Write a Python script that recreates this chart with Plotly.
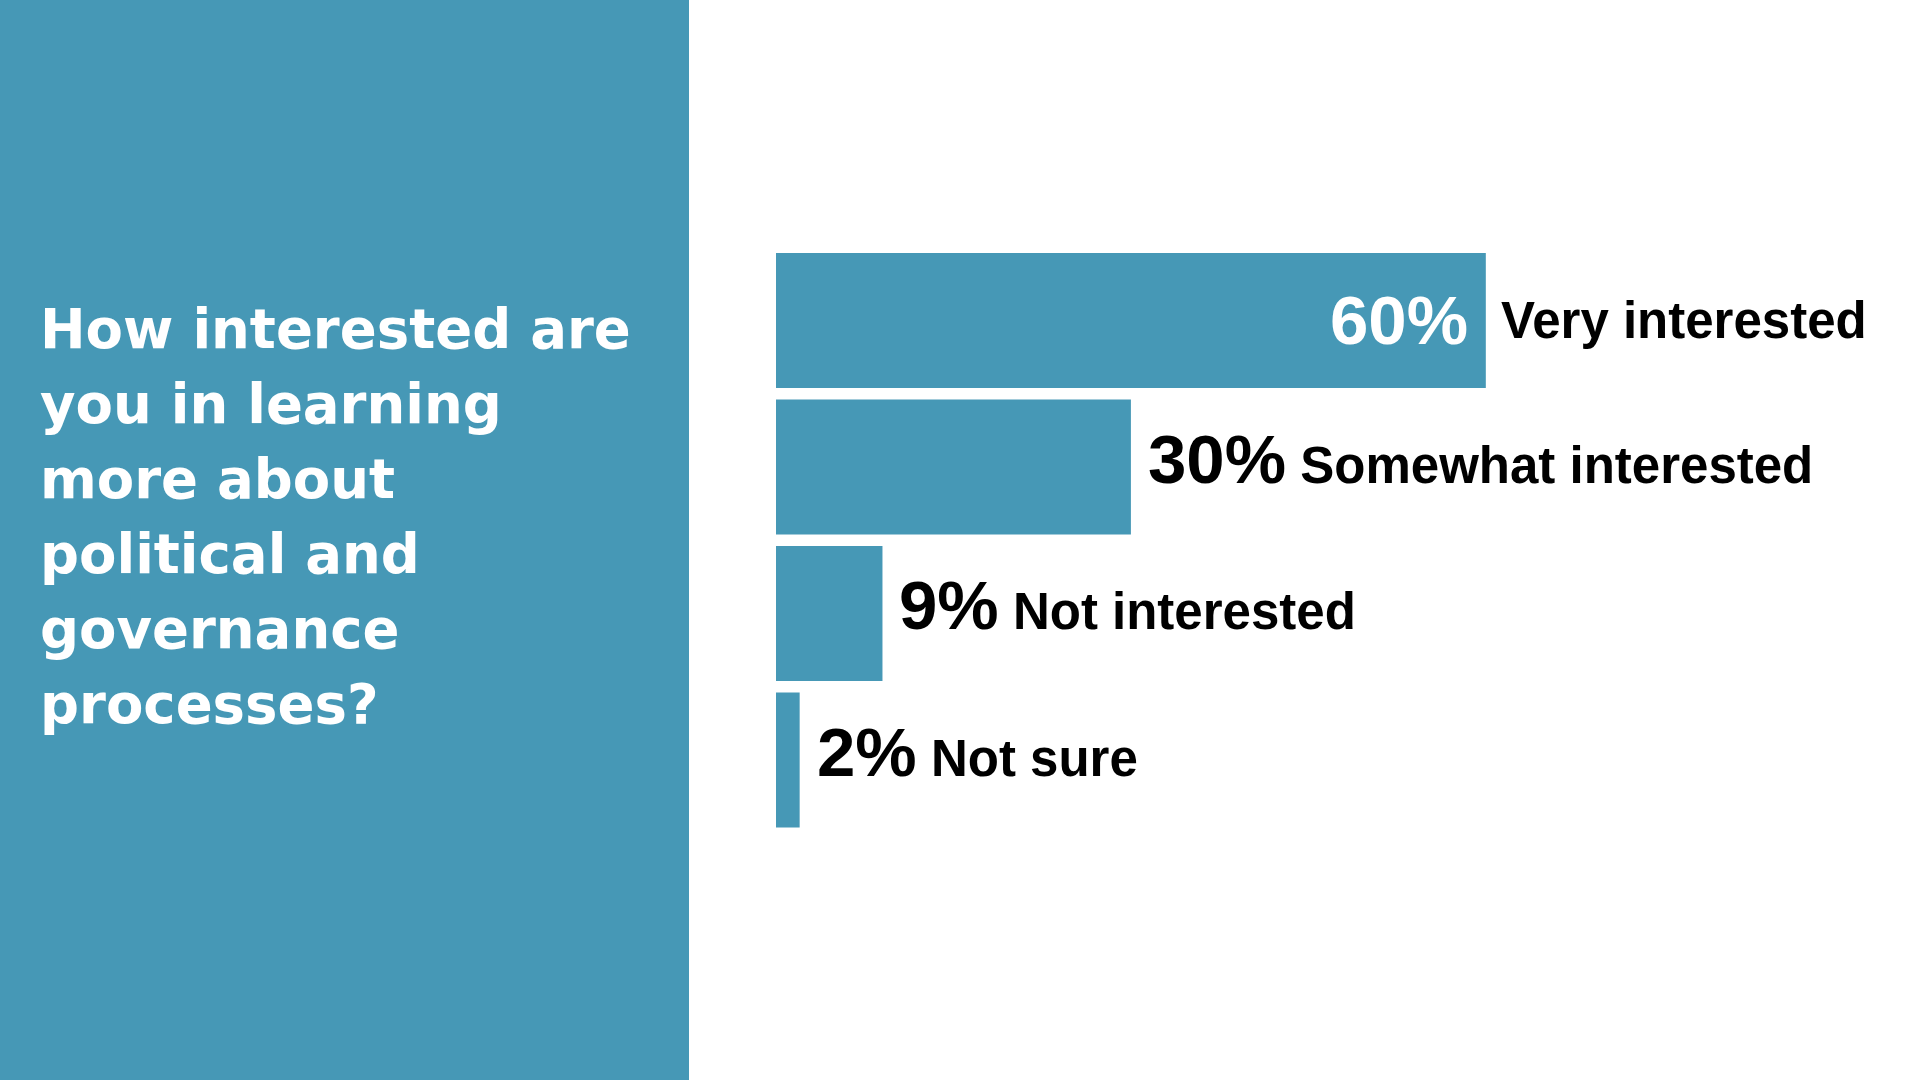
import plotly.graph_objects as go

categories = ["Very interested", "Somewhat interested", "Not interested", "Not sure"]
values = [60, 30, 9, 2]
pct_labels = ["60%", "30%", "9%", "2%"]
title_lines = ["How interested are", "you in learning", "more about",
               "political and", "governance", "processes?"]

TEAL = "#4698B6"
W, H = 1920, 1080

fig = go.Figure()
fig.add_trace(go.Bar(
    x=values, y=categories, orientation="h",
    marker=dict(color=TEAL, line=dict(width=0)),
    hoverinfo="skip", showlegend=False,
))

# left panel
fig.add_shape(type="rect", xref="paper", yref="paper", x0=0, x1=689 / W, y0=0, y1=1,
              fillcolor=TEAL, line=dict(width=0), layer="below")

annotations = []
# title lines
first_baseline = 348
line_step = 75
for i, line in enumerate(title_lines):
    yb = first_baseline + i * line_step
    annotations.append(dict(
        xref="paper", yref="paper", x=38 / W, y=1 - (yb - 19) / H,
        xanchor="left", yanchor="middle", showarrow=False, align="left",
        text=line, font=dict(family="DejaVu Sans, Montserrat, sans-serif",
                             size=54.5, color="white", weight=700),
    ))

LABEL_FONT = "Liberation Sans, Arial, Helvetica, sans-serif"
for cat, v, p in zip(categories, values, pct_labels):
    if v >= 50:
        annotations.append(dict(
            x=v, y=cat, xref="x", yref="y", xanchor="right", yanchor="middle",
            xshift=-16, showarrow=False, text=p,
            font=dict(family=LABEL_FONT, size=69, color="white", weight=700)))
        annotations.append(dict(
            x=v, y=cat, xref="x", yref="y", xanchor="left", yanchor="middle",
            xshift=13, showarrow=False, text=cat,
            font=dict(family=LABEL_FONT, size=51, color="black", weight=700)))
    else:
        annotations.append(dict(
            x=v, y=cat, xref="x", yref="y", xanchor="left", yanchor="middle",
            xshift=15, yshift=8, showarrow=False,
            text=f"<span style='font-size:69px'>{p}</span> {cat}",
            font=dict(family=LABEL_FONT, size=51, color="black", weight=700)))

fig.update_layout(
    width=W, height=H,
    margin=dict(l=0, r=0, t=0, b=0),
    paper_bgcolor="white", plot_bgcolor="white",
    bargap=0.079,
    xaxis=dict(domain=[776 / W, 1.0], range=[0, 96.7], visible=False, fixedrange=True),
    yaxis=dict(domain=[1 - 833.25 / H, 1 - 247.25 / H], autorange="reversed",
               visible=False, fixedrange=True),
    annotations=annotations,
)

fig.write_html("out.html", config={"displayModeBar": False},
               post_script="document.body.style.margin='0';document.body.style.overflow='hidden';")
